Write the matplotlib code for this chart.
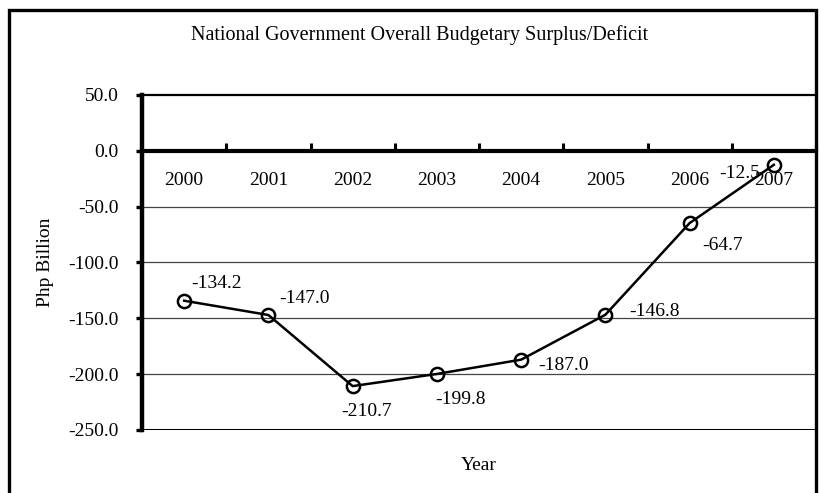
import matplotlib
matplotlib.use("Agg")
import matplotlib.pyplot as plt
from matplotlib.patches import Rectangle
from matplotlib.ticker import FixedLocator, NullFormatter

years = ["2000", "2001", "2002", "2003", "2004", "2005", "2006", "2007"]
balance = [-134.2, -147.0, -210.7, -199.8, -187.0, -146.8, -64.7, -12.5]
y_ticks = [50, 0, -50, -100, -150, -200, -250]

# label offsets in points (dx, dy, ha, va) for each data label
label_pos = [
    (5, 6, "left", "bottom"),
    (8, 6, "left", "bottom"),
    (-8, -12, "left", "top"),
    (-1, -12, "left", "top"),
    (12, -4, "left", "center"),
    (17, 2, "left", "center"),
    (9, -10, "left", "top"),
    (-10, -6, "right", "center"),
]

plt.rcParams["font.family"] = ["Liberation Serif", "DejaVu Serif"]
FS = 14

W, H = 821, 493
fig = plt.figure(figsize=(W / 100, H / 100), dpi=100)
ax = fig.add_axes([142 / W, 1 - 430 / H, (816 - 142) / W, (430 - 95) / H])

x = list(range(len(years)))
ax.plot(x, balance, color="black", linewidth=1.8, marker="o", markersize=9.5,
        markerfacecolor="none", markeredgecolor="black", markeredgewidth=1.8,
        zorder=5, clip_on=False)

for xi, v, (dx, dy, ha, va) in zip(x, balance, label_pos):
    ax.annotate(f"{v:.1f}", (xi, v), xytext=(dx, dy), textcoords="offset points",
                ha=ha, va=va, fontsize=FS, zorder=6)

ax.set_xlim(-0.5, len(years) - 0.5)
ax.set_ylim(-250, 50)

# horizontal gridlines
for g in [-50, -100, -150, -200]:
    ax.axhline(g, color="#444444", linewidth=0.9, zorder=1)
ax.axhline(-250, color="black", linewidth=2.2, zorder=2)

# category axis sits on the zero line
ax.spines["bottom"].set_position(("data", 0))
ax.spines["bottom"].set_linewidth(3)
ax.spines["left"].set_linewidth(3.2)
ax.spines["top"].set_linewidth(1.6)
ax.spines["right"].set_visible(False)

ax.set_xticks(x)
ax.set_xticklabels(years)
ax.xaxis.set_minor_locator(FixedLocator([i + 0.5 for i in range(len(years))]))
ax.xaxis.set_minor_formatter(NullFormatter())
ax.tick_params(axis="x", which="major", length=0, pad=15, labelsize=FS)
ax.tick_params(axis="x", which="minor", direction="in", length=6, width=2.2)

ax.set_yticks(y_ticks)
ax.set_yticklabels([f"{t:.1f}" for t in y_ticks])
ax.tick_params(axis="y", direction="out", length=4, width=2.4, pad=13, labelsize=FS)

ax.set_xlabel("Year", fontsize=FS)
ax.xaxis.set_label_coords(0.5, -0.08)
ax.set_ylabel("Php Billion", fontsize=FS)
ax.yaxis.set_label_coords(-0.13, 0.5)

fig.text(420 / W, 1 - 35 / H, "National Government Overall Budgetary Surplus/Deficit",
         ha="center", va="center", fontsize=14.5)

# chart border, open at the bottom edge
fig.patches.append(Rectangle((9 / W, -0.05), (816 - 9) / W, 1 - 10 / H + 0.05,
                             transform=fig.transFigure, fill=False,
                             edgecolor="black", linewidth=2.4))

fig.savefig("out.png", dpi=100)
